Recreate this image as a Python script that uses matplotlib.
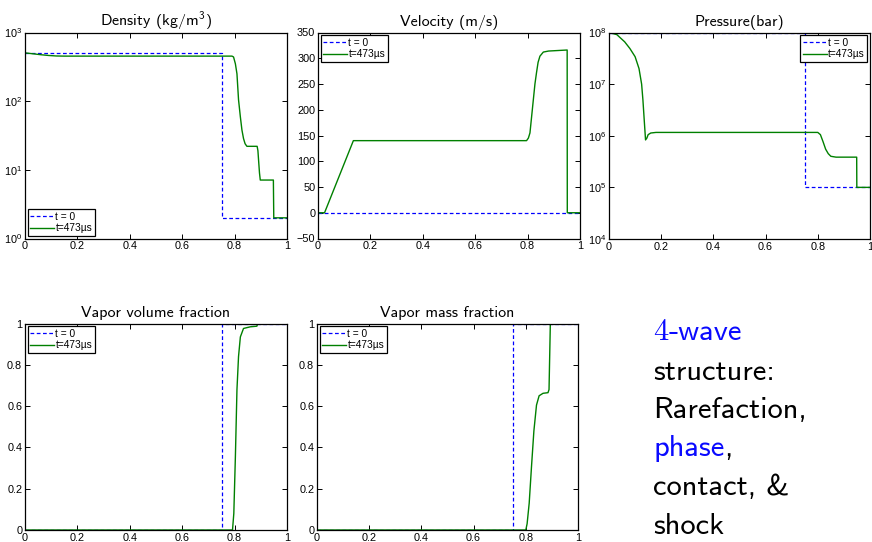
"""
Two-phase shock tube: density, velocity, pressure and vapor fractions
at t = 0 and t = 473 us, plus a short note on the wave structure.
"""
import matplotlib
matplotlib.use("Agg")
import matplotlib.pyplot as plt
from matplotlib.ticker import FixedLocator, FormatStrFormatter, NullLocator
from matplotlib.transforms import IdentityTransform

# ---- data ----
# initial state: discontinuity at x = 0.75
x_init = [0.0, 0.75, 0.75, 1.0]
rho_init = [500, 500, 2, 2]
u_init = [0, 0, 0, 0]
p_init = [1e8, 1e8, 1e5, 1e5]
alpha_init = [0, 0, 1, 1]
y_init = [0, 0, 1, 1]

# t = 473 us
x_rho = [0.0, 0.03, 0.06, 0.09, 0.12, 0.15, 0.5, 0.79, 0.796, 0.803, 0.809, 0.815,
         0.822, 0.828, 0.834, 0.84, 0.847, 0.886, 0.889, 0.892, 0.895, 0.898, 0.948,
         0.9495, 1.0]
rho_473 = [505, 490, 475, 463, 455, 453, 453, 453, 440, 350, 250, 105, 59, 38, 28.6,
           24, 22, 22, 19, 13, 9, 7.1, 7.1, 2, 2]

x_u = [0.0, 0.025, 0.135, 0.796, 0.803, 0.809, 0.815, 0.822, 0.828, 0.834, 0.84,
       0.847, 0.86, 0.88, 0.951, 0.9515, 1.0]
u_473 = [0, 0, 140, 140, 145, 155, 185, 220, 250, 272, 292, 304, 312, 314, 316, 0, 0]

x_p = [0.0, 0.03, 0.06, 0.08, 0.10, 0.115, 0.125, 0.13, 0.135, 0.14, 0.145, 0.15,
       0.16, 0.18, 0.80, 0.81, 0.82, 0.83, 0.84, 0.85, 0.87, 0.949, 0.9495, 1.0]
p_473 = [1e8, 9.1e7, 6.6e7, 4.9e7, 3.4e7, 2.0e7, 1.0e7, 4.9e6, 2.0e6, 8.3e5, 9.0e5,
         1.05e6, 1.13e6, 1.16e6, 1.16e6, 1.05e6, 7.7e5, 5.5e5, 4.5e5, 4.0e5, 3.85e5,
         3.85e5, 1e5, 1e5]

x_alpha = [0.0, 0.792, 0.797, 0.803, 0.809, 0.815, 0.822, 0.834, 0.86, 0.885, 0.888,
           1.0]
alpha_473 = [0, 0, 0.08, 0.355, 0.68, 0.84, 0.935, 0.976, 0.984, 0.987, 1.0, 1.0]

x_y = [0.0, 0.80, 0.805, 0.813, 0.822, 0.831, 0.841, 0.851, 0.866, 0.885, 0.889,
       0.894, 1.0]
y_473 = [0, 0, 0.03, 0.13, 0.31, 0.48, 0.605, 0.65, 0.662, 0.665, 0.68, 1.0, 1.0]

legend_labels = ["t = 0", "t=473\u00b5s"]
x_ticks = [0, 0.2, 0.4, 0.6, 0.8, 1]

# ---- figure ----
W, H = 872, 542
plt.rcParams["font.family"] = ["Liberation Sans", "DejaVu Sans"]
plt.rcParams["mathtext.default"] = "regular"
plt.rcParams["axes.linewidth"] = 0.9

fig = plt.figure(figsize=(W / 100, H / 100), dpi=100)


def add_panel(left, top, right, bottom):
    # box given in pixels measured from the top-left corner
    return fig.add_axes([left / W, 1 - bottom / H, (right - left) / W, (bottom - top) / H])


def style(ax, title, loc):
    ax.set_xlim(0, 1)
    ax.xaxis.set_major_locator(FixedLocator(x_ticks))
    ax.xaxis.set_major_formatter(FormatStrFormatter("%g"))
    ax.tick_params(direction="in", top=True, right=True, length=3.5, width=0.7,
                   labelsize=7.8, pad=2)
    ax.set_title(title, family="cmss10", fontsize=11.5, pad=5)
    ax.legend(legend_labels, loc=loc, fontsize=7.3, frameon=True, fancybox=False,
              edgecolor="black", framealpha=1, borderpad=0.25, handlelength=2.4,
              handletextpad=0.1, labelspacing=0.15, borderaxespad=0.25)
    ax.get_legend().get_frame().set_linewidth(0.9)


def draw(ax, x0, y0, x1, y1):
    ax.plot(x0, y0, color="#0000ff", ls=(0, (3, 2)), lw=0.9)
    ax.plot(x1, y1, color="#008000", lw=1.0)


ax1 = add_panel(25, 32.5, 287, 238.5)
draw(ax1, x_init, rho_init, x_rho, rho_473)
ax1.set_yscale("log")
ax1.set_ylim(1, 1000)
ax1.yaxis.set_minor_locator(NullLocator())
style(ax1, "Density (kg/m$^3$)", "lower left")

ax2 = add_panel(318, 32.5, 580, 238.5)
draw(ax2, x_init, u_init, x_u, u_473)
ax2.set_ylim(-50, 350)
ax2.yaxis.set_major_locator(FixedLocator(range(-50, 351, 50)))
style(ax2, "Velocity (m/s)", "upper left")

ax3 = add_panel(609, 32.5, 870, 239)
draw(ax3, x_init, p_init, x_p, p_473)
ax3.set_yscale("log")
ax3.set_ylim(1e4, 1e8)
ax3.yaxis.set_minor_locator(NullLocator())
style(ax3, "Pressure(bar)", "upper right")

ax4 = add_panel(25, 323.5, 287, 530)
draw(ax4, x_init, alpha_init, x_alpha, alpha_473)
ax4.set_ylim(0, 1)
ax4.yaxis.set_major_formatter(FormatStrFormatter("%g"))
style(ax4, "Vapor volume fraction", "upper left")

ax5 = add_panel(317, 323.5, 578, 530)
draw(ax5, x_init, y_init, x_y, y_473)
ax5.set_ylim(0, 1)
ax5.yaxis.set_major_formatter(FormatStrFormatter("%g"))
style(ax5, "Vapor mass fraction", "upper left")

# ---- note on the right, one line at a time with coloured pieces ----
blue = "#0a0aff"
note_lines = [
    [("4", blue, "cmr10"), ("-wave", blue, "cmss10")],
    [("structure:", "black", "cmss10")],
    [("Rarefaction,", "black", "cmss10")],
    [("phase", blue, "cmss10"), (",", "black", "cmss10")],
    [("contact, &", "black", "cmss10")],
    [("shock", "black", "cmss10")],
]
baselines = [340.5, 379.5, 418, 456.5, 495, 533.5]

renderer = fig.canvas.get_renderer()
for parts, base in zip(note_lines, baselines):
    xpos = 653
    for s, color, fam in parts:
        t = fig.text(xpos, H - base, s, color=color, family=fam, fontsize=22,
                     va="baseline", ha="left", transform=IdentityTransform())
        xpos += t.get_window_extent(renderer).width

fig.savefig("out.png", dpi=100)
